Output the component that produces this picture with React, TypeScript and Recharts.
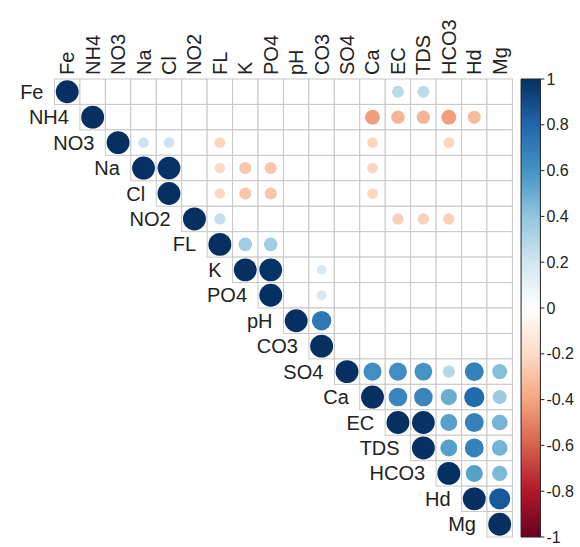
import { ScatterChart, Scatter, XAxis, YAxis, ReferenceArea } from "recharts";

const VARS = ["Fe", "NH4", "NO3", "Na", "Cl", "NO2", "FL", "K", "PO4", "pH", "CO3", "SO4", "Ca", "EC", "TDS", "HCO3", "Hd", "Mg"];

// significant correlations per row (upper triangle), blank cells left out
const ROW_FE = [["EC", 0.27], ["TDS", 0.27]];
const ROW_NH4 = [["Ca", -0.42], ["EC", -0.34], ["TDS", -0.34], ["HCO3", -0.42], ["Hd", -0.32]];
const ROW_NO3 = [["Na", 0.21], ["Cl", 0.21], ["FL", -0.22], ["Ca", -0.22], ["HCO3", -0.22]];
const ROW_NA = [["Cl", 0.99], ["FL", -0.21], ["K", -0.28], ["PO4", -0.28], ["Ca", -0.22]];
const ROW_CL = [["FL", -0.21], ["K", -0.28], ["PO4", -0.28], ["Ca", -0.22]];
const ROW_NO2 = [["FL", 0.24], ["EC", -0.24], ["TDS", -0.24], ["HCO3", -0.24]];
const ROW_FL = [["K", 0.35], ["PO4", 0.35]];
const ROW_K = [["PO4", 0.99], ["CO3", 0.18]];
const ROW_PO4 = [["CO3", 0.18]];
const ROW_PH = [["CO3", 0.72]];
const ROW_CO3: any[] = [];
const ROW_SO4 = [["Ca", 0.62], ["EC", 0.62], ["TDS", 0.6], ["HCO3", 0.28], ["Hd", 0.68], ["Mg", 0.43]];
const ROW_CA = [["EC", 0.66], ["TDS", 0.66], ["HCO3", 0.5], ["Hd", 0.78], ["Mg", 0.37]];
const ROW_EC = [["TDS", 0.99], ["HCO3", 0.55], ["Hd", 0.68], ["Mg", 0.47]];
const ROW_TDS = [["HCO3", 0.55], ["Hd", 0.68], ["Mg", 0.47]];
const ROW_HCO3 = [["Hd", 0.55], ["Mg", 0.45]];
const ROW_HD = [["Mg", 0.85]];
const ROW_MG: any[] = [];

const ROWS = [ROW_FE, ROW_NH4, ROW_NO3, ROW_NA, ROW_CL, ROW_NO2, ROW_FL, ROW_K, ROW_PO4, ROW_PH, ROW_CO3, ROW_SO4, ROW_CA, ROW_EC, ROW_TDS, ROW_HCO3, ROW_HD, ROW_MG];

const LEGEND_TICKS = [1, 0.8, 0.6, 0.4, 0.2, 0, -0.2, -0.4, -0.6, -0.8, -1];

// RdBu palette, from -1 to 1
const PALETTE = ["#67001F", "#B2182B", "#D6604D", "#F4A582", "#FDDBC7", "#FFFFFF", "#D1E5F0", "#92C5DE", "#4393C3", "#2166AC", "#053061"];

const FONT = "'Liberation Sans', Arial, sans-serif";
const CELL = 25.44;

function hex(c: string) {
  return [1, 3, 5].map((i) => parseInt(c.slice(i, i + 2), 16));
}

function corrColor(r: number) {
  const t = ((r + 1) / 2) * (PALETTE.length - 1);
  const i = Math.min(Math.floor(t), PALETTE.length - 2);
  const f = t - i;
  const a = hex(PALETTE[i]);
  const b = hex(PALETTE[i + 1]);
  const m = a.map((v, k) => Math.round(v + (b[k] - v) * f));
  return `rgb(${m[0]},${m[1]},${m[2]})`;
}

const cells: any[] = [];
VARS.forEach((_, i) => {
  for (let j = i; j < VARS.length; j++) cells.push({ x: j, y: i });
});

const circles: any[] = [];
ROWS.forEach((row, i) => {
  circles.push({ x: i, y: i, r: 1 });
  row.forEach(([name, r]: any) => circles.push({ x: VARS.indexOf(name), y: i, r }));
});

const CellShape = (props: any) => {
  const { cx, cy, payload } = props;
  return (
    <g>
      <rect x={cx - CELL / 2} y={cy - CELL / 2} width={CELL} height={CELL} fill="#fff" stroke="#c8c8c8" strokeWidth={1} />
      {payload.x === payload.y && (
        <text x={cx - CELL / 2 - 11} y={cy} textAnchor="end" dominantBaseline="central" fontSize={20} fontFamily={FONT} fill="#222">
          {VARS[payload.y]}
        </text>
      )}
    </g>
  );
};

const CircleShape = (props: any) => {
  const { cx, cy, payload } = props;
  const rad = CELL * 0.45 * Math.sqrt(Math.abs(payload.r));
  return <circle cx={cx} cy={cy} r={rad} fill={corrColor(payload.r)} />;
};

const TopTick = (props: any) => {
  const { x, y, payload } = props;
  return (
    <text x={x} y={y} transform={`rotate(-90, ${x}, ${y})`} textAnchor="start" dominantBaseline="central" fontSize={20} fontFamily={FONT} fill="#222">
      {VARS[payload.value]}
    </text>
  );
};

export default function App() {
  return (
    <div style={{ position: "absolute", left: 0, top: 0, background: "#fff" }}>
      <ScatterChart width={580} height={547} margin={{ top: 0, right: 0, bottom: 10, left: 54.5 }}>
        <defs>
          <linearGradient id="cbar" x1="0" y1="0" x2="0" y2="1">
            {PALETTE.slice().reverse().map((c, i) => (
              <stop key={i} offset={`${(i / (PALETTE.length - 1)) * 100}%`} stopColor={c} />
            ))}
          </linearGradient>
        </defs>
        <XAxis
          type="number"
          dataKey="x"
          orientation="top"
          domain={[-0.5, 18.6]}
          ticks={VARS.map((_, i) => i)}
          interval={0}
          height={79}
          axisLine={false}
          tickLine={false}
          tickSize={0}
          tickMargin={4}
          tick={<TopTick />}
        />
        <YAxis yAxisId="rows" type="number" dataKey="y" domain={[-0.5, 17.5]} reversed hide />
        <YAxis
          yAxisId="bar"
          orientation="right"
          type="number"
          domain={[-1, 1]}
          allowDataOverflow
          ticks={LEGEND_TICKS}
          interval={0}
          width={39.6}
          axisLine={false}
          tickLine={{ stroke: "#222" }}
          tickSize={4}
          tickMargin={2}
          tick={{ fontSize: 16, fill: "#222", fontFamily: FONT }}
          tickFormatter={(v) => String(v)}
        />
        <ReferenceArea yAxisId="bar" x1={17.84} x2={18.6} y1={-1} y2={1} fill="url(#cbar)" fillOpacity={1} stroke="#222" strokeWidth={1} />
        <Scatter yAxisId="rows" data={cells} shape={<CellShape />} isAnimationActive={false} />
        <Scatter yAxisId="rows" data={circles} shape={<CircleShape />} isAnimationActive={false} />
      </ScatterChart>
    </div>
  );
}
